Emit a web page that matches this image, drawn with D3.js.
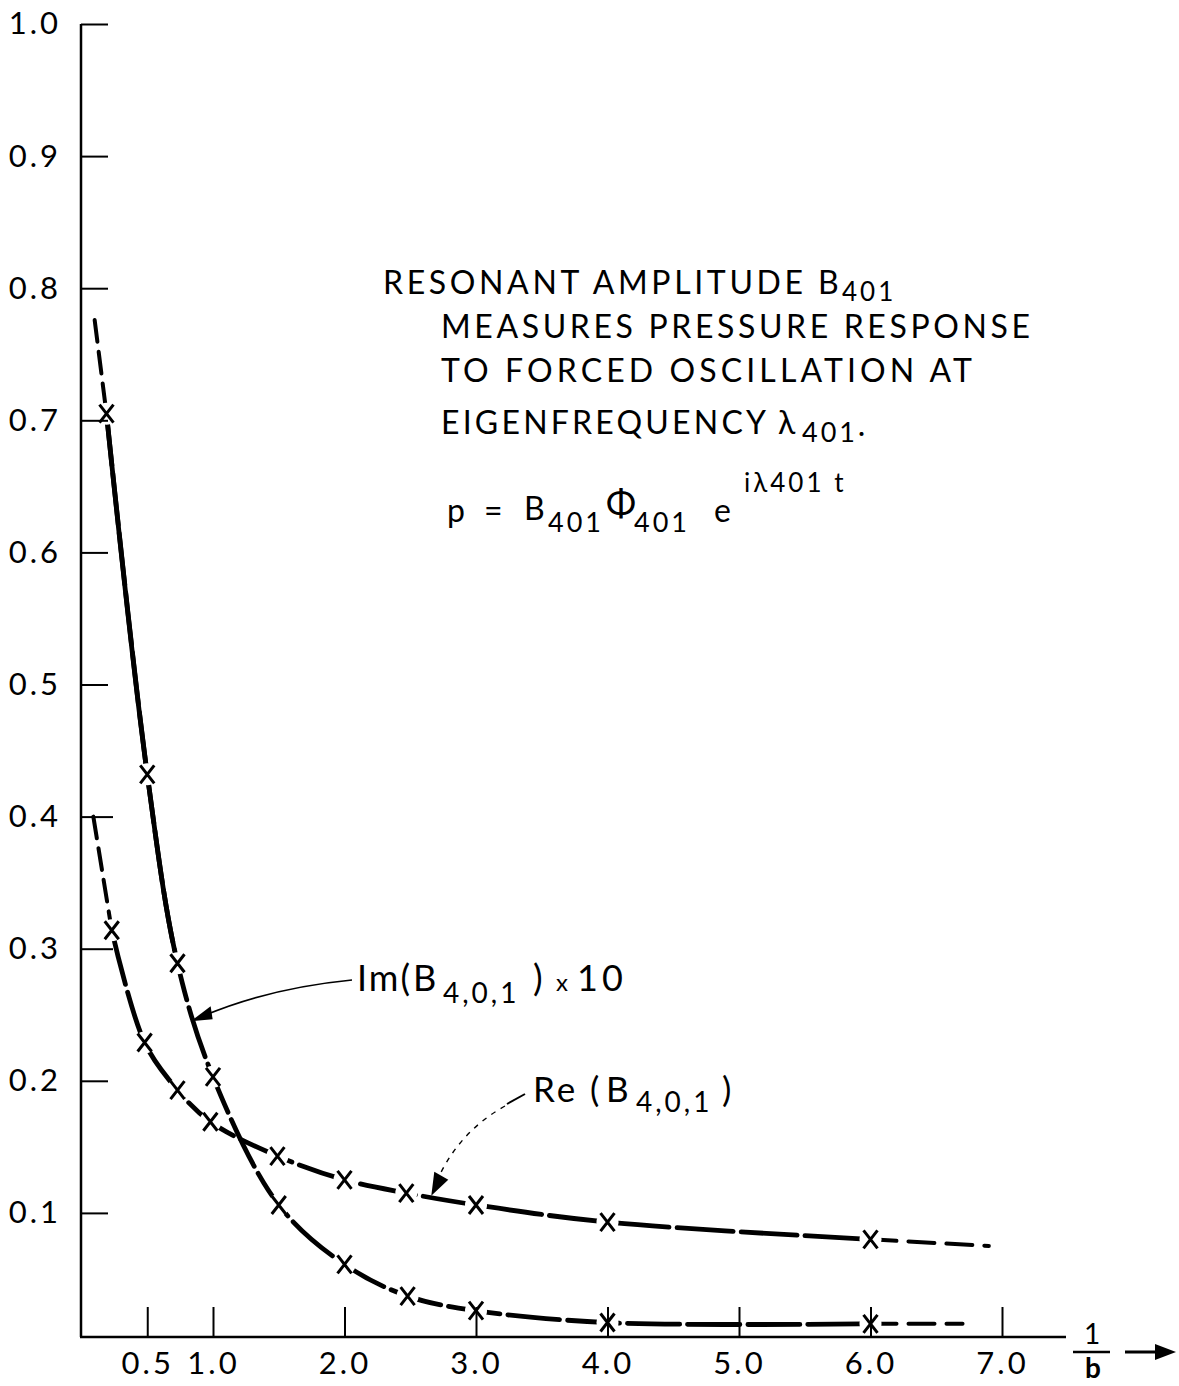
<!DOCTYPE html>
<html>
<head>
<meta charset="utf-8">
<script src="https://cdn.jsdelivr.net/npm/d3@7.9.0/dist/d3.min.js"></script>
<style>
  body { margin: 0; background: #fff; }
  svg { font-family: Lato, "Open Sans", sans-serif; }
</style>
</head>
<body>
<svg id="chart"></svg>
<script>
// values, x is 1/b
const xTicks = [0.5, 1.0, 2.0, 3.0, 4.0, 5.0, 6.0, 7.0];
const yTicks = [0.1, 0.2, 0.3, 0.4, 0.5, 0.6, 0.7, 0.8, 0.9, 1.0];

// Im(B401) x 10 : steep curve
const imX = [0.19, 0.50, 0.73, 1.0, 1.50, 2.0, 2.48, 3.0, 4.0, 6.0];
const imVal = [0.705, 0.432, 0.289, 0.203, 0.106, 0.061, 0.037, 0.026, 0.017, 0.016];
const imLeadIn = [0.10, 0.776];
const imTailOut = [6.7, 0.016];

// Re(B401) : flatter curve
const reX = [0.23, 0.48, 0.73, 0.98, 1.49, 2.0, 2.47, 3.0, 4.0, 6.0];
const reVal = [0.314, 0.229, 0.193, 0.169, 0.143, 0.125, 0.115, 0.106, 0.093, 0.080];
const reLeadIn = [0.09, 0.40];
const reTailOut = [6.9, 0.075];

// where the label arrows touch the curves
const imArrowTip = [0.83, 0.245];
const reArrowTip = [2.66, 0.113];

const width = 1179;
const height = 1386;

const svg = d3.select('#chart').attr('width', width).attr('height', height);

const xScale = d3.scaleLinear().domain([0, 7]).range([81.5, 1002]);
const yScale = d3.scaleLinear().domain([0, 1]).range([1345, 24]);
const axisY = 1337;

const line = d3
  .line()
  .x((d) => xScale(d[0]))
  .y((d) => yScale(d[1]))
  .curve(d3.curveCatmullRom.alpha(0.5));

function drawSeries(xs, vals, leadIn, tailOut, mainDash) {
  const pts = xs.map((x, i) => [x, vals[i]]);
  const g = svg.append('g').attr('fill', 'none').attr('stroke', '#000').attr('stroke-linecap', 'round');

  g.append('path')
    .attr('d', line([leadIn, pts[0]]))
    .attr('stroke-width', 4)
    .attr('stroke-dasharray', '22,10');

  g.append('path')
    .attr('d', line(pts))
    .attr('stroke-width', 4.8)
    .attr('stroke-dasharray', mainDash);

  g.append('path')
    .attr('d', line([pts[pts.length - 1], tailOut]))
    .attr('stroke-width', 4)
    .attr('stroke-dasharray', '26,12');

  return pts;
}

const imPts = drawSeries(imX, imVal, imLeadIn, imTailOut, '52,8');
const rePts = drawSeries(reX, reVal, reLeadIn, reTailOut, '56,8');

// upper part of the Im curve is drawn solid
svg.append('clipPath').attr('id', 'upper')
  .append('rect')
  .attr('x', 0).attr('y', 0)
  .attr('width', width)
  .attr('height', yScale(imVal[2]) - 12);

svg.append('path')
  .attr('d', line(imPts))
  .attr('clip-path', 'url(#upper)')
  .attr('fill', 'none')
  .attr('stroke', '#000')
  .attr('stroke-width', 4.8);

// gaps round the x markers, then the markers
const allPts = imPts.concat(rePts);
svg.append('g')
  .selectAll('circle')
  .data(allPts)
  .join('circle')
  .attr('cx', (d) => xScale(d[0]))
  .attr('cy', (d) => yScale(d[1]))
  .attr('r', 11)
  .attr('fill', '#fff');

svg.append('g')
  .selectAll('path')
  .data(allPts)
  .join('path')
  .attr('transform', (d) => `translate(${xScale(d[0])},${yScale(d[1])})`)
  .attr('d', 'M-7,-9L7,9M-7,9L7,-9')
  .attr('fill', 'none')
  .attr('stroke', '#000')
  .attr('stroke-width', 3);

// axes
const xAxis = d3
  .axisBottom(xScale)
  .tickValues(xTicks)
  .tickFormat(d3.format('.1f'))
  .tickSize(-30)
  .tickSizeOuter(0)
  .tickPadding(15);

const gx = svg.append('g')
  .attr('transform', `translate(0,${axisY})`)
  .call(xAxis);
gx.select('.domain').remove();
gx.selectAll('line').attr('stroke-width', 2);
gx.selectAll('text')
  .attr('font-size', 31)
  .attr('font-family', 'Lato, sans-serif')
  .attr('letter-spacing', 3)
  .attr('fill', '#000');

const yAxis = d3
  .axisLeft(yScale)
  .tickValues(yTicks)
  .tickFormat(d3.format('.1f'))
  .tickSize(-27)
  .tickSizeOuter(0)
  .tickPadding(20);

const gy = svg.append('g')
  .attr('transform', 'translate(81,0)')
  .call(yAxis);
gy.select('.domain').remove();
gy.selectAll('line').attr('stroke-width', 2);
gy.selectAll('.tick').filter((d) => d === 0.3 || d === 0.4)
  .select('line').attr('x2', 32);
gy.selectAll('text')
  .attr('font-size', 31)
  .attr('font-family', 'Lato, sans-serif')
  .attr('letter-spacing', 3)
  .attr('fill', '#000');

svg.append('line')
  .attr('x1', 81).attr('x2', 81)
  .attr('y1', yScale(1)).attr('y2', axisY)
  .attr('stroke', '#000').attr('stroke-width', 2.5);
svg.append('line')
  .attr('x1', 80).attr('x2', 1066)
  .attr('y1', axisY).attr('y2', axisY)
  .attr('stroke', '#000').attr('stroke-width', 2.5);

// 1/b axis title with arrow
const title = svg.append('g').attr('font-size', 28).attr('text-anchor', 'middle');
title.append('text').attr('x', 1092).attr('y', 1344).text('1');
title.append('line')
  .attr('x1', 1073).attr('x2', 1110).attr('y1', 1352).attr('y2', 1352)
  .attr('stroke', '#000').attr('stroke-width', 2.5);
title.append('text').attr('x', 1093).attr('y', 1378).attr('font-weight', 'bold').text('b');
svg.append('line')
  .attr('x1', 1125).attr('x2', 1158).attr('y1', 1352).attr('y2', 1352)
  .attr('stroke', '#000').attr('stroke-width', 3);
svg.append('path')
  .attr('d', 'M1155,1344L1176,1352L1155,1360Z')
  .attr('fill', '#000');

// note block
const note = svg.append('g').attr('font-size', 32).attr('fill', '#000');
note.append('text').attr('x', 383).attr('y', 294)
  .attr('textLength', 420).attr('lengthAdjust', 'spacing')
  .text('RESONANT AMPLITUDE');
note.append('text').attr('x', 818).attr('y', 294).text('B');
note.append('text').attr('x', 842).attr('y', 301).attr('font-size', 26)
  .attr('letter-spacing', 3).text('401');
note.append('text').attr('x', 441).attr('y', 338)
  .attr('textLength', 589).attr('lengthAdjust', 'spacing')
  .text('MEASURES PRESSURE RESPONSE');
note.append('text').attr('x', 441).attr('y', 382)
  .attr('textLength', 531).attr('lengthAdjust', 'spacing')
  .text('TO FORCED OSCILLATION AT');
note.append('text').attr('x', 441).attr('y', 434)
  .attr('textLength', 325).attr('lengthAdjust', 'spacing')
  .text('EIGENFREQUENCY');
note.append('text').attr('x', 778).attr('y', 434).text('λ');
note.append('text').attr('x', 802).attr('y', 442).attr('font-size', 27)
  .attr('letter-spacing', 3).text('401·');

// formula
note.append('text').attr('x', 447).attr('y', 522).text('p');
note.append('text').attr('x', 484).attr('y', 522).text('=');
note.append('text').attr('x', 524).attr('y', 520).text('B');
note.append('text').attr('x', 548).attr('y', 532).attr('font-size', 27)
  .attr('letter-spacing', 3).text('401');
note.append('text').attr('x', 606).attr('y', 516).attr('font-size', 36).text('Φ');
note.append('text').attr('x', 634).attr('y', 532).attr('font-size', 27)
  .attr('letter-spacing', 3).text('401');
note.append('text').attr('x', 714).attr('y', 522).text('e');
note.append('text').attr('x', 744).attr('y', 492).attr('font-size', 26)
  .attr('letter-spacing', 3).text('iλ401 t');

// curve labels
const labels = svg.append('g').attr('fill', '#000');
const imLabel = labels.append('text').attr('y', 991).attr('font-size', 36);
imLabel.append('tspan').attr('x', 357).attr('letter-spacing', 2).text('Im(');
imLabel.append('tspan').attr('x', 413).text('B');
imLabel.append('tspan').attr('x', 443).attr('dy', 12).attr('font-size', 28)
  .attr('letter-spacing', 3).text('4,0,1');
imLabel.append('tspan').attr('x', 533).attr('dy', -12).text(')');
imLabel.append('tspan').attr('x', 556).attr('font-size', 24).text('x');
imLabel.append('tspan').attr('x', 577).attr('letter-spacing', 4).text('10');

const reLabel = labels.append('text').attr('y', 1102).attr('font-size', 35);
reLabel.append('tspan').attr('x', 533).attr('letter-spacing', 3).text('Re');
reLabel.append('tspan').attr('x', 590).text('(');
reLabel.append('tspan').attr('x', 606).text('B');
reLabel.append('tspan').attr('x', 636).attr('dy', 10).attr('font-size', 28)
  .attr('letter-spacing', 3).text('4,0,1');
reLabel.append('tspan').attr('x', 722).attr('dy', -10).text(')');

// leaders with arrow heads
const imTip = [xScale(imArrowTip[0]), yScale(imArrowTip[1])];
svg.append('path')
  .attr('d', `M352,980Q270,988 ${imTip[0] + 14},${imTip[1] - 6}`)
  .attr('fill', 'none').attr('stroke', '#000').attr('stroke-width', 1.6);
svg.append('path')
  .attr('d', `M${imTip[0]},${imTip[1]}L${imTip[0] + 20},${imTip[1] - 15}L${imTip[0] + 22},${imTip[1] - 2}Z`)
  .attr('fill', '#000');

const reTip = [xScale(reArrowTip[0]), yScale(reArrowTip[1])];
svg.append('path')
  .attr('d', 'M507,1104L525,1094')
  .attr('stroke', '#000').attr('stroke-width', 2);
svg.append('path')
  .attr('d', `M505,1106Q462,1130 ${reTip[0] + 9},${reTip[1] - 22}`)
  .attr('fill', 'none').attr('stroke', '#000').attr('stroke-width', 1.4)
  .attr('stroke-dasharray', '5,6');
svg.append('path')
  .attr('d', `M${reTip[0]},${reTip[1]}L${reTip[0] + 3},${reTip[1] - 24}L${reTip[0] + 17},${reTip[1] - 16}Z`)
  .attr('fill', '#000');
</script>
</body>
</html>
